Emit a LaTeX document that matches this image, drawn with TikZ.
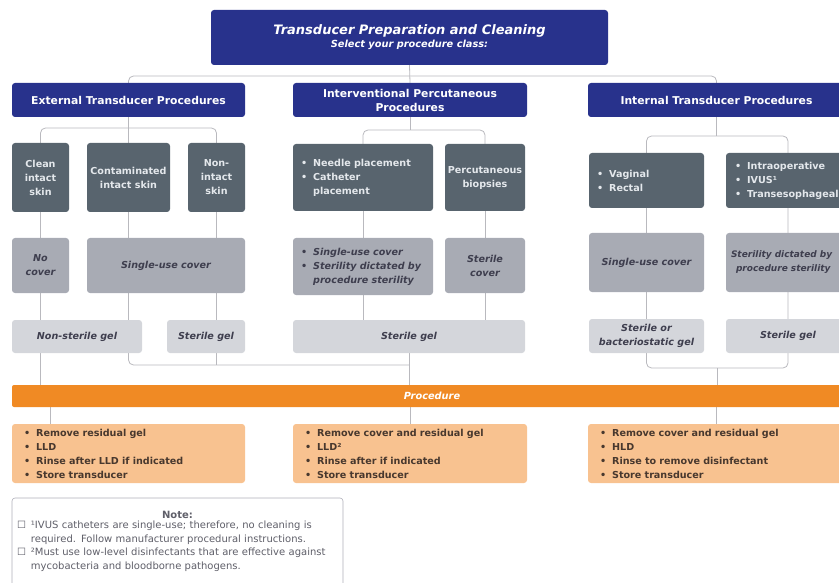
\documentclass[tikz,border=0pt]{standalone}
\usepackage{fontspec}
\setmainfont{DejaVu Sans}
\usetikzlibrary{backgrounds}
\definecolor{navy}{RGB}{40,50,140}
\definecolor{dgray}{RGB}{88,100,110}
\definecolor{mgray}{RGB}{168,171,180}
\definecolor{lgray}{RGB}{212,214,219}
\definecolor{orange1}{RGB}{240,138,36}
\definecolor{lorange}{RGB}{248,194,144}
\definecolor{dtext}{RGB}{228,232,236}
\definecolor{gtext}{RGB}{62,62,78}
\definecolor{otext}{RGB}{72,56,46}
\definecolor{lineg}{RGB}{185,185,190}
\definecolor{noteb}{RGB}{175,175,185}
\definecolor{notet}{RGB}{95,95,105}
\newcommand{\bl}{\textbullet\hspace{6pt}}
\newcommand{\ind}{\phantom{\textbullet}\hspace{6pt}}
\begin{document}
\begin{tikzpicture}[x=1pt,y=-1pt,
 conn/.style={draw=lineg, line width=0.8pt, rounded corners=5pt},
 base/.style={inner sep=0pt, rounded corners=3pt, align=center},
 hdr/.style={base, fill=navy, text=white, font=\bfseries\fontsize{10.8}{14}\selectfont},
 dbox/.style={base, fill=dgray, text=dtext, font=\bfseries\fontsize{9.6}{14}\selectfont},
 mbox/.style={base, fill=mgray, text=gtext, font=\bfseries\itshape\fontsize{9.6}{14}\selectfont},
 lbox/.style={base, fill=lgray, text=gtext, font=\bfseries\itshape\fontsize{9.6}{14}\selectfont},
 obox/.style={base, fill=lorange, text=otext, font=\bfseries\fontsize{9.6}{14}\selectfont, align=left, inner xsep=12pt},
 sz/.style 2 args={minimum width=#1pt, minimum height=#2pt},
]
\useasboundingbox (0,0) rectangle (839,583);
\clip (0,0) rectangle (839,583);

% title and headers
\node[base, fill=navy, text=white, sz={397}{55}] (title) at (409.5,37.5)
  {{\bfseries\itshape\fontsize{13}{15}\selectfont Transducer Preparation and Cleaning}\\[1pt]
   {\bfseries\itshape\fontsize{9.8}{11}\selectfont Select your procedure class:}};
\node[hdr, sz={233}{34}] (ext) at (128.5,100) {External Transducer Procedures};
\node[hdr, sz={234}{34}] (ivp) at (410,100) {Interventional Percutaneous\\Procedures};
\node[hdr, sz={257}{34}] (itp) at (716.5,100) {Internal Transducer Procedures};

% external
\node[dbox, sz={57}{69}] (clean) at (40.5,177.5) {Clean\\intact\\skin};
\node[dbox, sz={83}{69}] (cont) at (128.5,177.5) {Contaminated\\intact skin};
\node[dbox, sz={57}{69}] (nonint) at (216.5,177.5) {Non-\\intact\\skin};
\node[mbox, sz={57}{55}] (nocov) at (40.5,265.5) {No\\cover};
\node[mbox, sz={158}{55}] (sucov) at (166,265.5) {Single-use cover};
\node[lbox, sz={130}{33}] (nsgel) at (77,336.5) {Non-sterile gel};
\node[lbox, sz={78}{33}] (sgel) at (206,336.5) {Sterile gel};

% interventional
\node[dbox, align=left, inner xsep=8pt, text width=124pt, minimum height=67pt] (needle) at (363,177.5)
  {\bl Needle placement\\\bl Catheter\\\ind placement};
\node[dbox, sz={80}{67}] (biop) at (485,177.5) {Percutaneous\\biopsies};
\node[mbox, align=left, inner xsep=8pt, text width=124pt, minimum height=57pt] (sucov2) at (363,266.5)
  {\bl Single-use cover\\\bl Sterility dictated by\\\ind procedure sterility};
\node[mbox, sz={80}{55}] (stcov) at (485,265.5) {Sterile\\cover};
\node[lbox, sz={232}{33}] (sgel2) at (409,336.5) {Sterile gel};

% internal
\node[dbox, align=left, inner xsep=8pt, text width=99pt, minimum height=55pt] (vag) at (646.5,180.5)
  {\bl Vaginal\\\bl Rectal};
\node[dbox, align=left, inner xsep=9pt, text width=106pt, minimum height=55pt] (intra) at (788,180.5)
  {\bl Intraoperative\\\bl IVUS¹\\\bl Transesophageal};
\node[mbox, sz={115}{59}] (sucov3) at (646.5,262.5) {Single-use cover};
\node[mbox, align=left, inner xsep=5pt, text width=114pt, minimum height=59pt,
      font=\bfseries\itshape\fontsize{9}{14}\selectfont] (ster3) at (788,262.5)
  {Sterility dictated by\\\hspace*{5pt}procedure sterility};
\node[lbox, sz={115}{34}] (gel3) at (646.5,336) {Sterile or\\bacteriostatic gel};
\node[lbox, sz={124}{34}] (sgel3) at (788,336) {Sterile gel};

% procedure bar
\node[base, rounded corners=2pt, fill=orange1, text=white, font=\bfseries\itshape\fontsize{9.8}{10}\selectfont, sz={840}{22}] (bar) at (432,396) {Procedure};

% orange boxes
\node[obox, text width=209pt, minimum height=59pt] (o1) at (128.5,453.5)
  {\bl Remove residual gel\\\bl LLD\\\bl Rinse after LLD if indicated\\\bl Store transducer};
\node[obox, text width=210pt, minimum height=59pt] (o2) at (410,453.5)
  {\bl Remove cover and residual gel\\\bl LLD²\\\bl Rinse after if indicated\\\bl Store transducer};
\node[obox, text width=233pt, minimum height=59pt] (o3) at (716.5,453.5)
  {\bl Remove cover and residual gel\\\bl HLD\\\bl Rinse to remove disinfectant\\\bl Store transducer};

% note
\node[draw=noteb, line width=0.6pt, fill=white, rounded corners=3pt, inner xsep=5pt, inner ysep=0pt,
      text width=321pt, minimum height=88pt, align=left, text=notet,
      font=\fontsize{10}{13.5}\selectfont] (note) at (177.5,542)
  {\makebox[321pt]{\bfseries Note:}\\
   \begin{tabular}{@{}l@{\hspace{5pt}}l@{}}
   ☐ & ¹IVUS catheters are single-use; therefore, no cleaning is\\
     & required. Follow manufacturer procedural instructions.\\
   ☐ & ²Must use low-level disinfectants that are effective against\\
     & mycobacteria and bloodborne pathogens.
   \end{tabular}};

% connectors
\begin{scope}[on background layer]
\coordinate (t1) at (409.5,76);
\draw[conn] (title.south) -- (ivp.north);
\draw[conn] (ext.north) |- (t1) -| (itp.north);
\coordinate (e1) at (128.5,128);
\draw[conn] (ext.south) -- (cont.north);
\draw[conn] (clean.north) |- (e1) -| (nonint.north);
\draw[conn] (clean.south) -- (clean.south |- bar.north);
\coordinate (j1) at (409,365);
\draw[conn] (cont.south) |- (j1);
\draw[conn] (nonint.south) -- (nonint.south |- j1);
\coordinate (i1) at (410,130);
\draw[conn] (ivp.south) -- (i1);
\draw[conn] (needle.north) |- (i1) -| (biop.north);
\draw[conn] (needle.south) -- (needle.south |- sgel2.north);
\draw[conn] (biop.south) -- (biop.south |- sgel2.north);
\draw[conn] (sgel2.south) -- (sgel2.south |- bar.north);
\coordinate (n1) at (716.5,136);
\draw[conn] (itp.south) -- (n1);
\draw[conn] (vag.north) |- (n1) -| (intra.north);
\coordinate (n2) at (717.5,368);
\draw[conn] (vag.south) |- (n2) -| (intra.south);
\draw[conn] (n2) -- (n2 |- bar.north);
\coordinate (b1) at (50,0);
\draw[conn] (b1 |- bar.south) -- (b1 |- o1.north);
\draw[conn] (o2.north |- bar.south) -- (o2.north);
\draw[conn] (o3.north |- bar.south) -- (o3.north);
\end{scope}
\end{tikzpicture}
\end{document}
